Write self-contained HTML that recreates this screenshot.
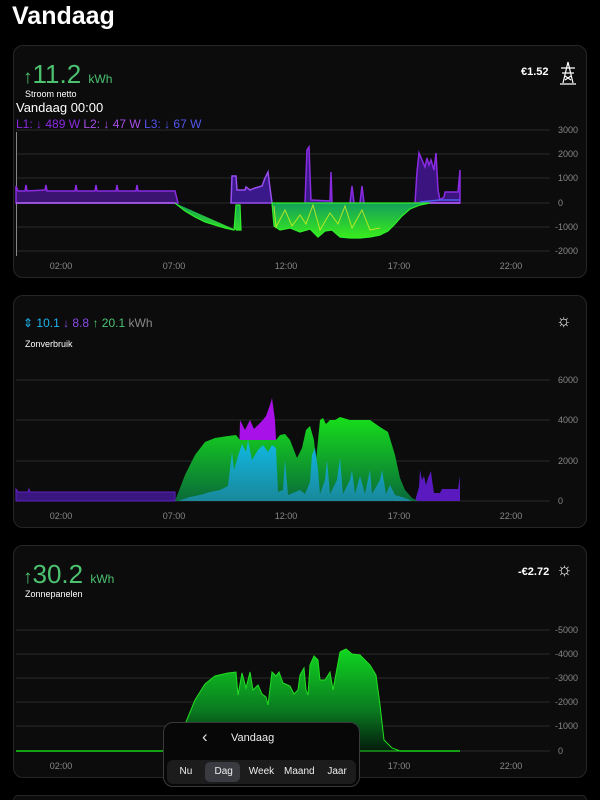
<!DOCTYPE html>
<html style="width:600px;height:800px;overflow:hidden"><head><meta charset="utf-8"><style>
*{margin:0;padding:0;box-sizing:border-box}
body{width:600px;height:800px;background:#000;font-family:"Liberation Sans",sans-serif;color:#fff;overflow:hidden;position:relative}
.card{position:absolute;left:13px;width:574px;height:233px;background:#0c0c0c;border:1px solid #262626;border-radius:10px}
.t{position:absolute;font-family:"Liberation Sans",sans-serif}
svg{position:absolute;left:0;top:0}
</style></head><body>
<div class="t" style="left:12px;top:2px;font-size:25px;font-weight:bold">Vandaag</div>
<div class="card" style="top:45px"></div>
<div class="card" style="top:295px"></div>
<div class="card" style="top:545px"></div>
<div class="card" style="top:795px;height:5px;border-bottom:none;border-radius:10px 10px 0 0"></div>

<!-- card1 header -->
<div class="t" style="left:23px;top:59px;color:#4cc270;font-size:26px;"><span style="font-size:19px;font-weight:bold">↑</span>11.2 <span style="font-size:12px">kWh</span></div>
<div class="t" style="left:25px;top:89px;font-size:9px">Stroom netto</div>
<div class="t" style="left:16px;top:100px;font-size:13px">Vandaag 00:00</div>
<div class="t" style="left:16px;top:117px;font-size:12px;color:#8a2be2">L1: ↓ 489 W <span style="color:#a64ee8">L2: ↓ 47 W</span> <span style="color:#5555ee">L3: ↓ 67 W</span></div>
<div class="t" style="left:521px;top:66px;font-size:11px;font-weight:bold">€1.52</div>
<svg width="600" height="800" style="pointer-events:none"><g stroke="#fff" stroke-width="1.2" fill="none"><path d="M560,84 L576,84 M563,83 L568,62 L573,83 M561,68 L575,68 M562,73 L574,73 M565,76 L571,80 M571,76 L565,80"/></g></svg>

<!-- card2 header -->
<div class="t" style="left:23px;top:316px;font-size:12px"><span style="color:#1eb4ee">⇕ 10.1</span> <span style="color:#8a4be8">↓ 8.8</span> <span style="color:#4cc270">↑ 20.1</span> <span style="color:#888">kWh</span></div>
<div class="t" style="left:25px;top:339px;font-size:9px">Zonverbruik</div>
<div class="t" style="left:556px;top:311px;font-size:17px">☼</div>

<!-- card3 header -->
<div class="t" style="left:23px;top:559px;color:#4cc270;font-size:26px;"><span style="font-size:19px;font-weight:bold">↑</span>30.2 <span style="font-size:12px">kWh</span></div>
<div class="t" style="left:25px;top:589px;font-size:9px">Zonnepanelen</div>
<div class="t" style="left:518px;top:566px;font-size:11px;font-weight:bold">-€2.72</div>
<div class="t" style="left:556px;top:559px;font-size:18px">☼</div>

<svg width="600" height="800" xmlns="http://www.w3.org/2000/svg" font-family="Liberation Sans, sans-serif" font-size="9" fill="#888">
<defs>
<linearGradient id="g1" x1="0" y1="203" x2="0" y2="240" gradientUnits="userSpaceOnUse"><stop offset="0" stop-color="#13a05a"/><stop offset="1" stop-color="#3cf018"/></linearGradient>
<linearGradient id="g2" x1="0" y1="410" x2="0" y2="501" gradientUnits="userSpaceOnUse"><stop offset="0" stop-color="#18e818"/><stop offset="1" stop-color="#0a6a3a"/></linearGradient>
<linearGradient id="g3" x1="0" y1="650" x2="0" y2="751" gradientUnits="userSpaceOnUse"><stop offset="0" stop-color="#10d420"/><stop offset="0.6" stop-color="#0a7a20"/><stop offset="1" stop-color="#031a0c"/></linearGradient>
<linearGradient id="gc" x1="0" y1="440" x2="0" y2="501" gradientUnits="userSpaceOnUse"><stop offset="0" stop-color="#10b8ee"/><stop offset="1" stop-color="#1a8aa0"/></linearGradient>
</defs>
<g stroke="#2a2a2a" stroke-width="1">
<line x1="16" y1="130" x2="550" y2="130"/><line x1="16" y1="154" x2="550" y2="154"/><line x1="16" y1="178" x2="550" y2="178"/><line x1="16" y1="203" x2="550" y2="203"/><line x1="16" y1="227" x2="550" y2="227"/><line x1="16" y1="251" x2="550" y2="251"/>
<line x1="16" y1="380" x2="550" y2="380"/><line x1="16" y1="420" x2="550" y2="420"/><line x1="16" y1="461" x2="550" y2="461"/><line x1="16" y1="501" x2="550" y2="501"/>
<line x1="16" y1="630" x2="550" y2="630"/><line x1="16" y1="654" x2="550" y2="654"/><line x1="16" y1="678" x2="550" y2="678"/><line x1="16" y1="702" x2="550" y2="702"/><line x1="16" y1="726" x2="550" y2="726"/><line x1="16" y1="751" x2="550" y2="751"/>
</g>
<line x1="16.5" y1="132" x2="16.5" y2="256" stroke="#888" stroke-width="1"/>
<g text-anchor="start">
<text x="558" y="133">3000</text><text x="558" y="157">2000</text><text x="558" y="181">1000</text><text x="558" y="206">0</text><text x="555" y="230">-1000</text><text x="555" y="254">-2000</text>
<text x="558" y="383">6000</text><text x="558" y="423">4000</text><text x="558" y="464">2000</text><text x="558" y="504">0</text>
<text x="555" y="633">-5000</text><text x="555" y="657">-4000</text><text x="555" y="681">-3000</text><text x="555" y="705">-2000</text><text x="555" y="729">-1000</text><text x="558" y="754">0</text>
</g>
<g text-anchor="middle">
<text x="61" y="269">02:00</text><text x="174" y="269">07:00</text><text x="286" y="269">12:00</text><text x="399" y="269">17:00</text><text x="511" y="269">22:00</text>
<text x="61" y="519">02:00</text><text x="174" y="519">07:00</text><text x="286" y="519">12:00</text><text x="399" y="519">17:00</text><text x="511" y="519">22:00</text>
<text x="61" y="769">02:00</text><text x="174" y="769">07:00</text><text x="286" y="769">12:00</text><text x="399" y="769">17:00</text><text x="511" y="769">22:00</text>
</g>

<path d="M16,203 L16,186 L18,191 L25,191 L26,185 L27,191 L45,190 L46,185 L47,191 L75,191 L76,185 L77,191 L95,191 L96,185 L97,191 L116,191 L117,185 L118,191 L136,191 L137,185 L138,191 L175,191 L178,203 Z" fill="#3a1470" stroke="#8a2be2" stroke-width="1.5"/>
<path d="M231,203 L232,176 L236,176 L237,190 L245,190 L246,187 L250,190 L255,188 L262,186 L265,178 L268,172 L270,188 L272,203 Z" fill="#3a1a8a" stroke="#9a4cf0" stroke-width="1.5"/>
<path d="M305,203 L307,150 L309,147 L311,200 L330,201 L331,172 L332,203 M350,203 L352,186 L354,203 M360,203 L362,186 L364,203" fill="#3a1a8a" stroke="#8a2be2" stroke-width="1.5"/>
<path d="M415,203 L417,172 L419,153 L422,160 L425,167 L427,158 L429,165 L431,160 L434,170 L436,153 L438,190 L440,200 L444,197 L445,192 L458,192 L460,170 L460,203 Z" fill="#3c1480" stroke="#8a2be2" stroke-width="1.5"/>
<path d="M175,203 L185,211 L195,217 L205,222 L215,225 L225,228 L234,230 L236,205 L240,205 L241,230 L236,230 M272,203 L274,226 L280,230 L290,228 L300,232 L310,229 L318,237 L325,231 L332,230 L340,237 L350,238 L360,238 L370,237 L380,235 L388,231 L395,224 L402,216 L410,209 L420,205 L430,203 Z" fill="url(#g1)" stroke="#2ff02a" stroke-width="1.2"/>
<path d="M16,203 L175,203 M430,203 L460,203" stroke="#b060f0" stroke-width="1.5"/>
<path d="M420,202 L440,200 L460,200" stroke="#5060f0" stroke-width="1.5" fill="none"/>
<path d="M274,206 L276,227 L285,210 L292,226 L300,215 L306,224 L313,205 L320,230 L330,213 L338,224 L345,206 L352,228 L362,210 L370,230 L380,228" fill="none" stroke="#d8f020" stroke-width="1" opacity="0.8"/>

<path d="M16,501 L16,489 L18,492 L28,492 L29,489 L30,492 L175,492 L175,501 Z" fill="#3a1680" stroke="#6020c0"/>
<path d="M415,501 L419,487 L420,470 L422,480 L424,476 L426,485 L428,478 L431,471 L432,480 L434,493 L440,493 L442,489 L458,489 L460,476 L460,501 Z" fill="#5a1ac0"/>
<path d="M238,501 L240,420 L245,430 L250,420 L254,429 L258,425 L262,421 L266,416 L270,405 L272,398 L275,420 L276,440 L238,440 Z" fill="#a812e8"/>
<path d="M175,501 L185,475 L195,455 L205,442 L215,438 L228,436 L236,435 L240,440 L276,440 L280,435 L285,434 L290,440 L297,458 L302,448 L306,430 L310,426 L314,440 L316,460 L320,420 L323,418 L326,424 L330,420 L335,420 L340,417 L350,420 L360,420 L370,420 L380,427 L388,432 L395,455 L400,478 L405,490 L412,498 L418,501 Z" fill="url(#g2)"/>
<path d="M178,501 L190,497 L200,495 L210,492 L220,490 L228,486 L232,452 L234,470 L238,456 L242,444 L246,452 L248,440 L252,460 L258,450 L263,445 L268,452 L272,445 L276,448 L278,492 L283,490 L285,460 L288,495 L300,490 L305,494 L310,482 L312,455 L315,448 L318,470 L320,494 L325,480 L327,460 L330,494 L337,480 L340,458 L343,494 L350,480 L352,470 L355,494 L360,476 L365,494 L370,470 L372,494 L380,480 L382,470 L386,494 L390,485 L395,495 L405,498 L412,501 Z" fill="url(#gc)" opacity="0.95"/>

<path d="M170,751 L178,738 L186,722 L195,700 L205,684 L215,676 L228,673 L236,672 L238,695 L242,673 L246,688 L250,672 L253,690 L258,685 L262,694 L266,697 L268,705 L272,672 L276,676 L279,672 L283,683 L290,686 L294,694 L298,690 L300,675 L304,668 L306,690 L308,695 L310,665 L314,656 L318,660 L320,680 L325,680 L330,672 L333,690 L340,652 L346,649 L352,654 L360,655 L370,665 L376,675 L380,705 L384,740 L392,748 L400,751 Z" fill="url(#g3)" stroke="#22dd22" stroke-width="1"/>
<path d="M16,751 L170,751 M400,751 L460,751" stroke="#18d018" stroke-width="1.5"/>
</svg>

<div style="position:absolute;left:163px;top:722px;width:197px;height:65px;background:#070707;border:1px solid #3a3a3a;border-radius:10px"></div>
<div class="t" style="left:202px;top:727px;font-size:17px;color:#ddd">‹</div>
<div class="t" style="left:231px;top:732px;font-size:11px;color:#eee">Vandaag</div>
<div style="position:absolute;left:167px;top:760px;width:189px;height:24px;background:#1c1c1c;border-radius:6px"></div>
<div style="position:absolute;left:205px;top:762px;width:35px;height:20px;background:#3a3b40;border-radius:5px"></div>
<div class="t" style="left:167px;top:766px;width:189px;font-size:10px;color:#eee;display:flex">
<span style="width:38px;text-align:center">Nu</span><span style="width:38px;text-align:center">Dag</span><span style="width:38px;text-align:center">Week</span><span style="width:38px;text-align:center">Maand</span><span style="width:38px;text-align:center">Jaar</span></div>
</body></html>
